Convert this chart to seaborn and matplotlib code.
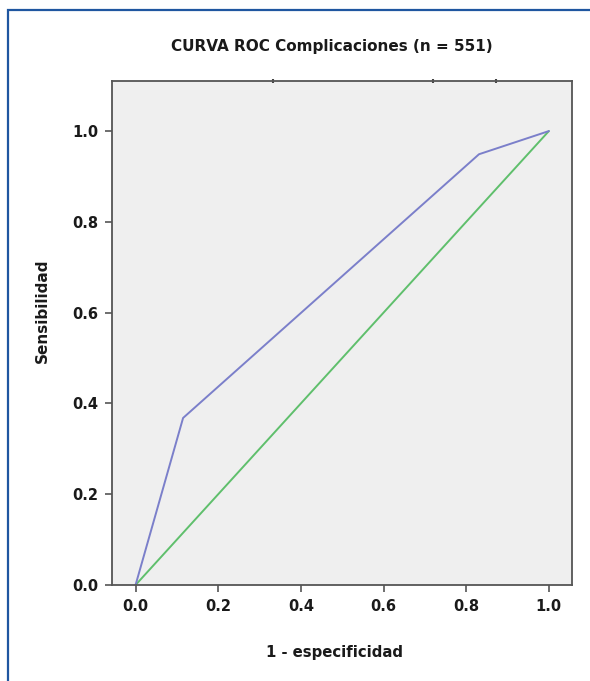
import matplotlib
matplotlib.use("Agg")
import matplotlib.pyplot as plt
import seaborn as sns
import pandas as pd
from matplotlib.patches import Rectangle

# ROC curve points (1 - especificidad, sensibilidad)
fpr = [0.0, 0.115, 0.831, 1.0]
tpr = [0.0, 0.368, 0.949, 1.0]
# reference diagonal
diag_x = [0.0, 1.0]
diag_y = [0.0, 1.0]
tick_vals = [0.0, 0.2, 0.4, 0.6, 0.8, 1.0]
tick_labels = ['0.0', '0.2', '0.4', '0.6', '0.8', '1.0']

roc_df = pd.DataFrame({'fpr': fpr, 'tpr': tpr})
diag_df = pd.DataFrame({'x': diag_x, 'y': diag_y})

sns.set_style('ticks')
plt.rcParams['font.family'] = ['DejaVu Sans']

fig = plt.figure(figsize=(5.9, 6.81), dpi=100)
ax = fig.add_axes([112 / 590, 1 - 585 / 681, 460 / 590, (585 - 80.7) / 681])
ax.set_facecolor('#efefef')

sns.lineplot(data=diag_df, x='x', y='y', ax=ax, color='#5fbf6c', linewidth=1.4,
             sort=False, estimator=None)
sns.lineplot(data=roc_df, x='fpr', y='tpr', ax=ax, color='#7b7fca', linewidth=1.4,
             sort=False, estimator=None)

ax.set_xlim(-0.057, 1.056)
ax.set_ylim(0.0, 1.111)
ax.set_xticks(tick_vals)
ax.set_xticklabels(tick_labels)
ax.set_yticks(tick_vals)
ax.set_yticklabels(tick_labels)
ax.set_xlabel('')
ax.set_ylabel('')

for s in ax.spines.values():
    s.set_color('#555555')
    s.set_linewidth(1.3)
ax.tick_params(axis='both', direction='out', length=5, width=1.2, color='#555555',
               labelsize=10.5, pad=5)
for lab in ax.get_xticklabels() + ax.get_yticklabels():
    lab.set_fontweight('bold')
    lab.set_color('#1a1a1a')

# small marks on the top spine
top = ax.secondary_xaxis('top')
top.set_xticks([0.332, 0.72, 0.872])
top.set_xticklabels([])
top.tick_params(direction='inout', length=3, width=1.5, color='#444444')
top.spines['top'].set_visible(False)

fig.text(332 / 590, 1 - 47 / 681, 'CURVA ROC Complicaciones (n = 551)',
         ha='center', va='center', fontsize=11, fontweight='bold', color='#1a1a1a')
fig.text(334 / 590, 1 - 652 / 681, '1 - especificidad',
         ha='center', va='center', fontsize=10.7, fontweight='bold', color='#1a1a1a')
fig.text(42 / 590, 1 - 311 / 681, 'Sensibilidad', rotation=90,
         ha='center', va='center', fontsize=11, fontweight='bold', color='#1a1a1a')

# blue frame around the figure
fig.patches.append(Rectangle((7.5 / 590, -0.1), 2.0, 1.1 - 10 / 681,
                             transform=fig.transFigure, fill=False,
                             edgecolor='#1f56a0', linewidth=1.6))

fig.savefig('out.png', dpi=100)
